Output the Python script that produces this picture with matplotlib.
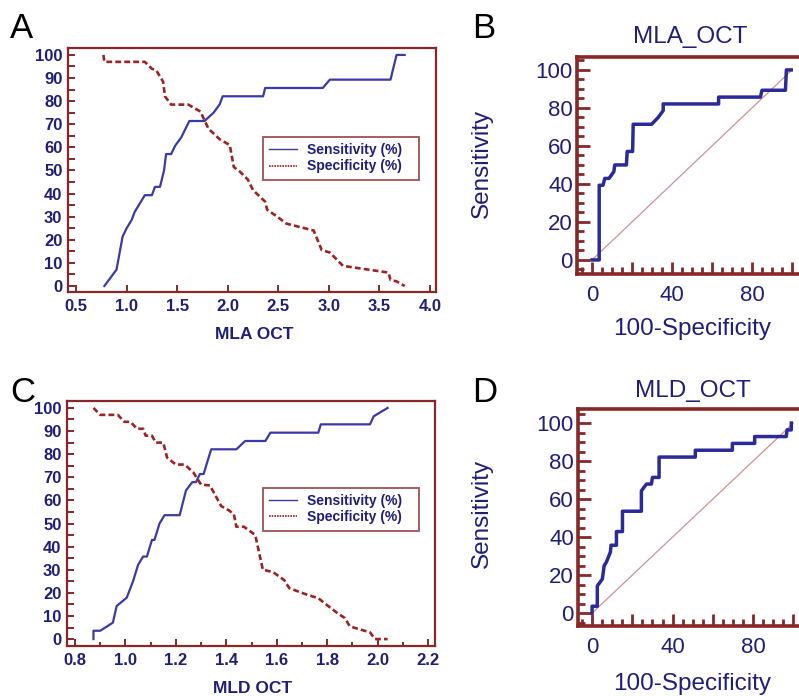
import numpy as np
import matplotlib
matplotlib.use('Agg')
import matplotlib.pyplot as plt
from matplotlib.ticker import MultipleLocator, FixedLocator

plt.rcParams['font.family'] = ['Liberation Sans', 'DejaVu Sans']

MAROON = '#862828'
NAVY = '#1f1f7a'
BLUE = '#3a3aa8'
RED = '#9e2222'
DIAG = '#d49090'

# panel A: MLA OCT criterion curves
mla_x_sens = [0.78, 0.90, 0.96, 1.00, 1.05, 1.08, 1.13, 1.18, 1.25, 1.28, 1.33, 1.37, 1.39, 1.44,
              1.48, 1.54, 1.62, 1.77, 1.86, 1.92, 1.95, 2.35, 2.37, 2.94, 3.01, 3.61, 3.67, 3.75]
mla_sens = [0, 7.1, 21.4, 25, 28.6, 32.1, 35.7, 39.3, 39.3, 42.9, 42.9, 50, 57.1, 57.1,
            60.7, 64.3, 71.4, 71.4, 75, 78.6, 82.1, 82.1, 85.7, 85.7, 89.3, 89.3, 100, 100]
mla_x_spec = [0.77, 0.78, 1.18, 1.25, 1.29, 1.36, 1.38, 1.44, 1.61, 1.73, 1.81, 1.86, 1.92, 2.02, 2.06,
              2.12, 2.20, 2.25, 2.37, 2.39, 2.49, 2.58, 2.85, 2.93, 3.01, 3.14, 3.59, 3.61, 3.67, 3.75]
mla_spec = [100, 97, 97, 94, 93.5, 88.5, 82, 78.5, 78.5, 75.5, 68, 66, 63.5, 61, 51.5,
            49.5, 46, 41.5, 36.5, 33, 30, 27, 24, 15.5, 14.5, 8.7, 5.8, 2.6, 2, 0]

# panel C: MLD OCT criterion curves
mld_x_sens = [0.873, 0.873, 0.90, 0.95, 0.965, 1.005, 1.03, 1.05, 1.07, 1.085, 1.105, 1.115, 1.125,
              1.135, 1.155, 1.215, 1.24, 1.265, 1.28, 1.295, 1.31, 1.34, 1.44, 1.475, 1.555, 1.575,
              1.765, 1.775, 1.97, 1.985, 2.04]
mld_sens = [0, 3.6, 3.6, 7.1, 14.3, 17.9, 25, 32.1, 35.7, 35.7, 42.9, 42.9, 46.4,
            50, 53.6, 53.6, 64.3, 67.9, 67.9, 71.4, 71.4, 82.1, 82.1, 85.7, 85.7, 89.3,
            89.3, 92.9, 92.9, 96.4, 100]
mld_x_spec = [0.873, 0.90, 0.97, 0.995, 1.02, 1.045, 1.07, 1.08, 1.105, 1.12, 1.15, 1.165, 1.20, 1.235,
              1.27, 1.30, 1.335, 1.38, 1.41, 1.43, 1.44, 1.47, 1.515, 1.545, 1.585, 1.63, 1.65, 1.72,
              1.765, 1.79, 1.84, 1.87, 1.89, 1.97, 1.99, 2.04]
mld_spec = [100, 97, 97, 94, 94, 91, 91, 88, 88, 85, 85, 78.5, 75.5, 75.5,
            72, 66.8, 66.5, 57.5, 55.7, 54, 48.6, 48.6, 45, 30, 29, 25.5, 22, 19.2,
            17.7, 15.5, 11.3, 9.1, 5.5, 2.9, 0, 0]

# panel B: ROC for MLA_OCT
mla_fpr = [0, 3.6, 3.6, 5.5, 6.4, 8.5, 10.9, 11.4, 17.2, 17.6, 20.3, 20.6, 29.8, 33.1, 35.6, 35.6,
           63.3, 63.3, 84.2, 85, 96.7, 97.2, 99.6]
mla_tpr = [0, 0, 39.3, 39.3, 42.9, 42.9, 46.4, 50, 50, 57.1, 57.1, 71.4, 71.4, 75, 78.6, 82.1,
           82.1, 85.7, 85.7, 89.3, 89.3, 100, 100]

# panel D: ROC for MLD_OCT
mld_fpr = [0, 0, 2.6, 2.6, 5.1, 6, 7.1, 9.1, 9.4, 12.1, 12.1, 15.1, 15.1, 24.5, 24.5, 27, 29.5, 30,
           33.3, 33.3, 51.3, 51.3, 69.7, 69.7, 80.8, 80.8, 96.5, 96.9, 99, 99]
mld_tpr = [0, 3.6, 3.6, 14.3, 17.9, 25, 26.8, 32.1, 35.7, 35.7, 42.9, 42.9, 53.6, 53.6, 64.3, 67.9,
           67.9, 71.4, 71.4, 82.1, 82.1, 85.7, 85.7, 89.3, 89.3, 92.9, 92.9, 96.4, 96.4, 100]

W, H = 799, 696


def box(l, t, r, b):
    return [l / W, 1 - b / H, (r - l) / W, (b - t) / H]


def style_frame(ax, lw):
    for s in ax.spines.values():
        s.set_color(MAROON)
        s.set_linewidth(lw)


def criterion_panel(ax, xs, ys, xp, yp, xlim, ylim, xmaj, xmin, leg_anchor):
    ax.plot(xs, ys, color=BLUE, lw=1.6, label='Sensitivity (%)')
    ax.plot(xp, yp, color=RED, lw=1.9, ls=(0, (2.2, 1.2)), label='Specificity (%)')
    ax.set_xlim(*xlim)
    ax.set_ylim(*ylim)
    style_frame(ax, 1.6)
    ax.xaxis.set_major_locator(MultipleLocator(xmaj))
    if xmin:
        ax.xaxis.set_minor_locator(MultipleLocator(xmin))
    ax.yaxis.set_major_locator(MultipleLocator(10))
    ax.yaxis.set_minor_locator(MultipleLocator(5))
    ax.xaxis.set_major_formatter(matplotlib.ticker.FormatStrFormatter('%.1f'))
    ax.tick_params(which='both', direction='in', color=MAROON, width=1.4,
                   labelcolor=NAVY, labelsize=12, top=False, right=False)
    ax.tick_params(axis='x', which='major', length=5, pad=5)
    ax.tick_params(axis='x', which='minor', length=3)
    ax.tick_params(axis='y', which='major', length=5, pad=4)
    ax.tick_params(axis='y', which='minor', length=5)
    for t in ax.get_xticklabels() + ax.get_yticklabels():
        t.set_fontweight('bold')
    leg = ax.legend(loc='upper left', bbox_to_anchor=leg_anchor, mode='expand', fancybox=False,
                    edgecolor=MAROON, handlelength=2.0, handletextpad=0.7, borderpad=0.45,
                    labelspacing=0.15, borderaxespad=0, prop={'weight': 'bold', 'size': 10})
    leg.get_frame().set_linewidth(1.3)
    for t in leg.get_texts():
        t.set_color(NAVY)
    leg.get_lines()[1].set_linestyle((0, (1, 0.6)))
    leg.get_lines()[1].set_linewidth(1.2)
    leg.get_lines()[0].set_linewidth(1.0)


def roc_panel(ax, fpr, tpr, xlim, ylim):
    ax.plot([0, 100], [0, 100], color=DIAG, lw=0.9)
    ax.plot(fpr, tpr, color='#2a2a98', lw=2.5)
    ax.set_xlim(*xlim)
    ax.set_ylim(*ylim)
    style_frame(ax, 2.6)
    ax.xaxis.set_major_locator(FixedLocator([0, 20, 40, 60, 80, 100]))
    ax.set_xticklabels(['0', '', '40', '', '80', ''])
    ax.xaxis.set_minor_locator(MultipleLocator(5))
    ax.yaxis.set_major_locator(MultipleLocator(20))
    ax.yaxis.set_minor_locator(MultipleLocator(5))
    ax.tick_params(which='both', direction='in', color=MAROON, width=2,
                   labelcolor=NAVY, labelsize=16, top=False, right=False)
    ax.tick_params(which='major', length=9)
    ax.tick_params(which='minor', length=5)
    ax.tick_params(axis='x', pad=8)
    ax.tick_params(axis='y', pad=3)


fig = plt.figure(figsize=(W / 100, H / 100), dpi=100)

axA = fig.add_axes(box(68, 48, 436, 292))
criterion_panel(axA, mla_x_sens, mla_sens, mla_x_spec, mla_spec,
                (0.42, 4.06), (-2.6, 103), 0.5, None, (0.53, 0.455, 0.424, 0.18))
axC = fig.add_axes(box(67, 401, 435, 646))
criterion_panel(axC, mld_x_sens, mld_sens, mld_x_spec, mld_spec,
                (0.768, 2.228), (-3, 103), 0.2, 0.1, (0.533, 0.465, 0.424, 0.18))

axB = fig.add_axes(box(577, 57, 808, 274))
roc_panel(axB, mla_fpr, mla_tpr, (-7.5, 108), (-7.4, 106.8))
axD = fig.add_axes(box(578, 409, 808, 626))
roc_panel(axD, mld_fpr, mld_tpr, (-7, 107.3), (-6.8, 107.4))

# axis titles and labels
fig.text(254 / W, 1 - 339 / H, 'MLA OCT', ha='center', va='baseline',
         color=NAVY, fontsize=12.5, fontweight='bold')
fig.text(253 / W, 1 - 693 / H, 'MLD OCT', ha='center', va='baseline',
         color=NAVY, fontsize=12.5, fontweight='bold')
fig.text(690 / W, 1 - 43 / H, 'MLA_OCT', ha='center', va='baseline', color=NAVY, fontsize=17.5)
fig.text(693 / W, 1 - 397 / H, 'MLD_OCT', ha='center', va='baseline', color=NAVY, fontsize=17.5)
fig.text(692 / W, 1 - 335 / H, '100-Specificity', ha='center', va='baseline', color=NAVY, fontsize=17.5)
fig.text(692 / W, 1 - 690 / H, '100-Specificity', ha='center', va='baseline', color=NAVY, fontsize=17.5)
fig.text(482 / W, 1 - 163 / H, 'Sensitivity', ha='center', va='center', rotation=90,
         color=NAVY, fontsize=17.5)
fig.text(482 / W, 1 - 513 / H, 'Sensitivity', ha='center', va='center', rotation=90,
         color=NAVY, fontsize=17.5)

# panel letters
for letter, x, y in [('A', 10, 38), ('B', 472, 38), ('C', 10, 402), ('D', 472, 402)]:
    fig.text(x / W, 1 - y / H, letter, ha='left', va='baseline', color='black', fontsize=25)

fig.savefig('out.png', dpi=100)
